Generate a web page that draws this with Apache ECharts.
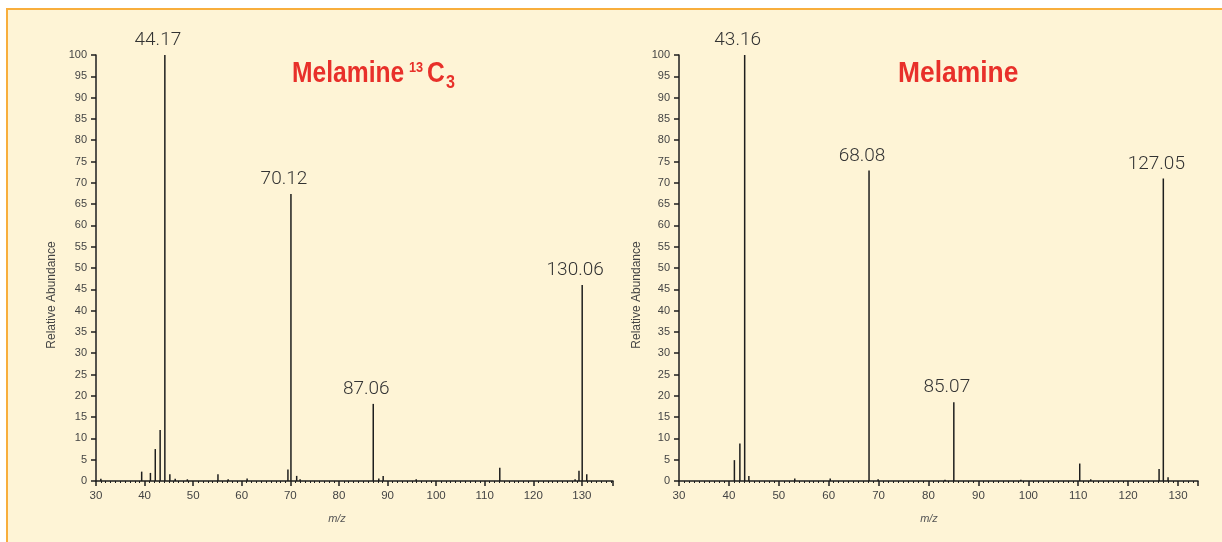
<!DOCTYPE html>
<html>
<head>
<meta charset="utf-8">
<script src="https://cdn.jsdelivr.net/npm/echarts@6/dist/echarts.min.js"></script>
<style>
  html, body { margin: 0; padding: 0; background: #fff; overflow: hidden; }
  #frame {
    position: absolute; left: 6px; top: 8px; width: 1230px; height: 560px;
    background: #fef4d6; border-top: 2px solid #f8ae3c; border-left: 2px solid #f8ae3c;
  }
  #chartmain { position: absolute; left: 0; top: 0; width: 1222px; height: 542px; }
</style>
</head>
<body>
<div id="frame"></div>
<div id="chartmain"></div>
<script>
// Melamine 13C3 (左图)
const leftMz = [31, 39.4, 41.2, 42.2, 43.2, 44.17, 45.2, 46.3, 48.8, 55.1, 57.2, 61.1, 69.5, 70.12, 71.3, 72,
    87.06, 88.2, 89.1, 95.9, 113.1, 127.6, 128.1, 128.6, 129.4, 130.06, 131.0, 131.6, 132.4, 133.2, 134.0, 134.8, 135.6];
const leftAb = [0.5, 2.2, 1.9, 7.5, 12, 100, 1.6, 0.5, 0.4, 1.6, 0.4, 0.6, 2.7, 67.4, 1.2, 0.4,
    18.1, 0.6, 1.2, 0.4, 3.1, -0.6, -0.5, 0.4, 2.4, 46, 1.6, -0.6, -0.5, -0.6, -0.5, -0.6, -0.5];
const leftLabels = [44.17, 70.12, 87.06, 130.06];

// Melamine (右图)
const rightMz = [41.1, 42.2, 43.16, 44.0, 53.2, 60.3, 68.08, 69.9, 83.3, 85.07, 98.5, 110.3, 112.5, 126.2, 127.05, 128.0,
    128.5, 129.0, 129.5, 130.2, 130.8, 131.4, 131.9];
const rightAb = [4.9, 8.8, 100, 1.2, 0.6, 0.6, 72.9, 0.4, 0.3, 18.5, 0.3, 4.1, 0.4, 2.8, 71, 0.9,
    -0.8, -0.6, -0.8, -0.6, -0.8, -0.6, -0.7];
const rightLabels = [43.16, 68.08, 85.07, 127.05];

const yTicks = { min: 0, max: 100, interval: 5 };

const chart = echarts.init(document.getElementById('chartmain'));
const FONT = "'Liberation Sans', Arial, sans-serif";
const INK = '#1e1e1e';
const RED = '#e8302a';

function buildData(mz, ab, labels) {
    return mz.map((m, i) => {
        const item = { value: [m, ab[i]] };
        if (labels.indexOf(m) >= 0) {
            item.label = {
                show: true, position: 'top', distance: 5, offset: [-7, 0],
                formatter: m.toFixed(2), fontFamily: 'Roboto', fontWeight: 300, fontSize: 19, color: '#333'
            };
        }
        return item;
    });
}

function xAxis(idx, max) {
    return {
        type: 'value', gridIndex: idx, min: 30, max: max, interval: 10,
        axisLine: { show: true, lineStyle: { color: INK, width: 1.5 } },
        axisTick: { show: true, length: 5, lineStyle: { color: INK, width: 1.5 } },
        minorTick: { show: true, splitNumber: 10, length: 2, lineStyle: { color: INK, width: 1 } },
        axisLabel: { margin: 9, fontFamily: FONT, fontSize: 11.5, color: '#444', showMaxLabel: false },
        splitLine: { show: false }
    };
}

function yAxis(idx) {
    return {
        type: 'value', gridIndex: idx, min: yTicks.min, max: yTicks.max, interval: yTicks.interval,
        axisLine: { show: true, lineStyle: { color: INK, width: 1.5 } },
        axisTick: { show: true, length: 5, lineStyle: { color: INK, width: 1.5 } },
        axisLabel: { margin: 9, fontFamily: FONT, fontSize: 11, color: '#444' },
        splitLine: { show: false }
    };
}

function txt(x, y, text, font, fill, extra) {
    extra = extra || {};
    return {
        type: 'text', x: x, y: y, rotation: extra.rotation || 0, scaleX: extra.scaleX || 1,
        style: Object.assign({ text: text, font: font, fill: fill, align: 'left', verticalAlign: 'middle' }, extra.style)
    };
}

const option = {
    animation: false,
    backgroundColor: 'transparent',
    grid: [
        { left: 96, right: 609, top: 55, bottom: 61 },
        { left: 679, right: 24, top: 55, bottom: 61 }
    ],
    xAxis: [xAxis(0, 136.4), xAxis(1, 134)],
    yAxis: [yAxis(0), yAxis(1)],
    series: [
        {
            type: 'bar', xAxisIndex: 0, yAxisIndex: 0, barWidth: 1.5,
            itemStyle: { color: INK }, data: buildData(leftMz, leftAb, leftLabels)
        },
        {
            type: 'bar', xAxisIndex: 1, yAxisIndex: 1, barWidth: 1.5,
            itemStyle: { color: INK }, data: buildData(rightMz, rightAb, rightLabels)
        }
    ],
    graphic: [
        txt(292, 74, 'Melamine', "bold 29px " + FONT, RED, { scaleX: 0.85 }),
        txt(409, 68, '13', "bold 15px " + FONT, RED, { scaleX: 0.85 }),
        txt(427, 74, 'C', "bold 29px " + FONT, RED, { scaleX: 0.85 }),
        txt(446, 83, '3', "bold 19px " + FONT, RED, { scaleX: 0.85 }),
        txt(898, 74, 'Melamine', "bold 30px " + FONT, RED, { scaleX: 0.88 }),
        txt(52, 295, 'Relative Abundance', "12px " + FONT, '#444',
            { rotation: Math.PI / 2, style: { align: 'center' } }),
        txt(637, 295, 'Relative Abundance', "12px " + FONT, '#444',
            { rotation: Math.PI / 2, style: { align: 'center' } }),
        txt(337, 519, 'm/z', "italic 11px " + FONT, '#555', { style: { align: 'center' } }),
        txt(929, 519, 'm/z', "italic 11px " + FONT, '#555', { style: { align: 'center' } })
    ]
};

chart.setOption(option);
window.addEventListener('resize', function () {
    chart.resize();
});
</script>
</body>
</html>
